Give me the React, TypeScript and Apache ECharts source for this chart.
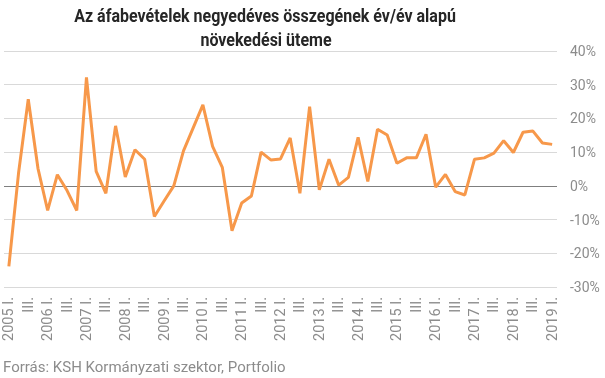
import React, { useEffect, useRef } from "react";
import * as echarts from "echarts";

const years = [2005, 2006, 2007, 2008, 2009, 2010, 2011, 2012, 2013, 2014, 2015, 2016, 2017, 2018, 2019];
const quarterNames = ["I.", "II.", "III.", "IV."];

const categories: string[] = [];
years.forEach((y) => {
  quarterNames.forEach((q, i) => {
    if (y === 2019 && i > 0) return;
    categories.push(i === 0 ? `${y} ${q}` : q);
  });
});

const growth = [
  -23.9, 3.8, 25.7, 5.2, -7.3, 3.3, -1.4, -7.3,
  32.2, 4.3, -2.2, 17.8, 2.6, 10.7, 7.9, -9.1,
  -4.5, 0.0, 10.4, 17.2, 24.0, 11.7, 5.5, -13.3,
  -5.1, -3.0, 10.0, 7.7, 8.0, 14.2, -2.2, 23.5,
  -1.2, 7.9, 0.2, 2.5, 14.4, 1.3, 16.8, 15.1,
  6.7, 8.3, 8.3, 15.3, -0.4, 3.4, -1.7, -2.7,
  7.9, 8.3, 9.7, 13.4, 9.9, 15.9, 16.3, 12.7,
  12.3,
];

const yTicks = [-30, -20, -10, 0, 10, 20, 30, 40];

const titleLines = ["Az áfabevételek negyedéves összegének év/év alapú", "növekedési üteme"];
const sourceText = "Forrás: KSH Kormányzati szektor, Portfolio";

export default function App() {
  const ref = useRef<HTMLDivElement>(null);
  useEffect(() => {
    if (!ref.current) return;
    const chart = echarts.init(ref.current, undefined, { renderer: "svg" });
    const gray = "#8c8c8c";
    chart.setOption({
      animation: false,
      textStyle: { fontFamily: "Roboto" },
      grid: { left: 4, right: 48, top: 51, bottom: 91, containLabel: false },
      graphic: [
        {
          type: "text",
          x: 265,
          y: 16,
          scaleX: 0.89,
          style: {
            text: titleLines[0],
            fontFamily: "Roboto",
            fontWeight: "bold",
            fontSize: 18,
            fill: "#262626",
            align: "center",
            verticalAlign: "middle",
          },
        },
        {
          type: "text",
          x: 266,
          y: 40,
          scaleX: 0.89,
          style: {
            text: titleLines[1],
            fontFamily: "Roboto",
            fontWeight: "bold",
            fontSize: 18,
            fill: "#262626",
            align: "center",
            verticalAlign: "middle",
          },
        },
        {
          type: "text",
          x: 3,
          y: 367,
          style: {
            text: sourceText,
            fontFamily: "Roboto",
            fontSize: 15,
            fill: gray,
            align: "left",
            verticalAlign: "middle",
          },
        },
      ],
      xAxis: {
        type: "category",
        data: categories,
        boundaryGap: true,
        axisLine: { show: false },
        axisTick: { show: false },
        axisLabel: {
          rotate: 90,
          interval: 1,
          color: gray,
          fontSize: 14.5,
          margin: 10,
          fontFamily: "Roboto",
        },
        splitLine: { show: false },
      },
      yAxis: {
        type: "value",
        position: "right",
        min: yTicks[0],
        max: yTicks[yTicks.length - 1],
        interval: 10,
        axisLine: { show: false },
        axisTick: { show: false },
        axisLabel: {
          formatter: "{value}%",
          color: gray,
          fontSize: 14,
          margin: 13,
          fontFamily: "Roboto",
        },
        splitLine: {
          show: true,
          lineStyle: {
            width: 1,
            color: yTicks.map((t) => (t === 0 ? "#7f7f7f" : "#d9d9d9")),
          },
        },
      },
      series: [
        {
          type: "line",
          data: growth,
          symbol: "none",
          lineStyle: { color: "#F7984A", width: 3 },
          itemStyle: { color: "#F7984A" },
        },
      ],
    });
    return () => chart.dispose();
  }, []);
  return (
    <div
      ref={ref}
      style={{ position: "fixed", left: 0, top: 0, width: 605, height: 378 }}
    />
  );
}
